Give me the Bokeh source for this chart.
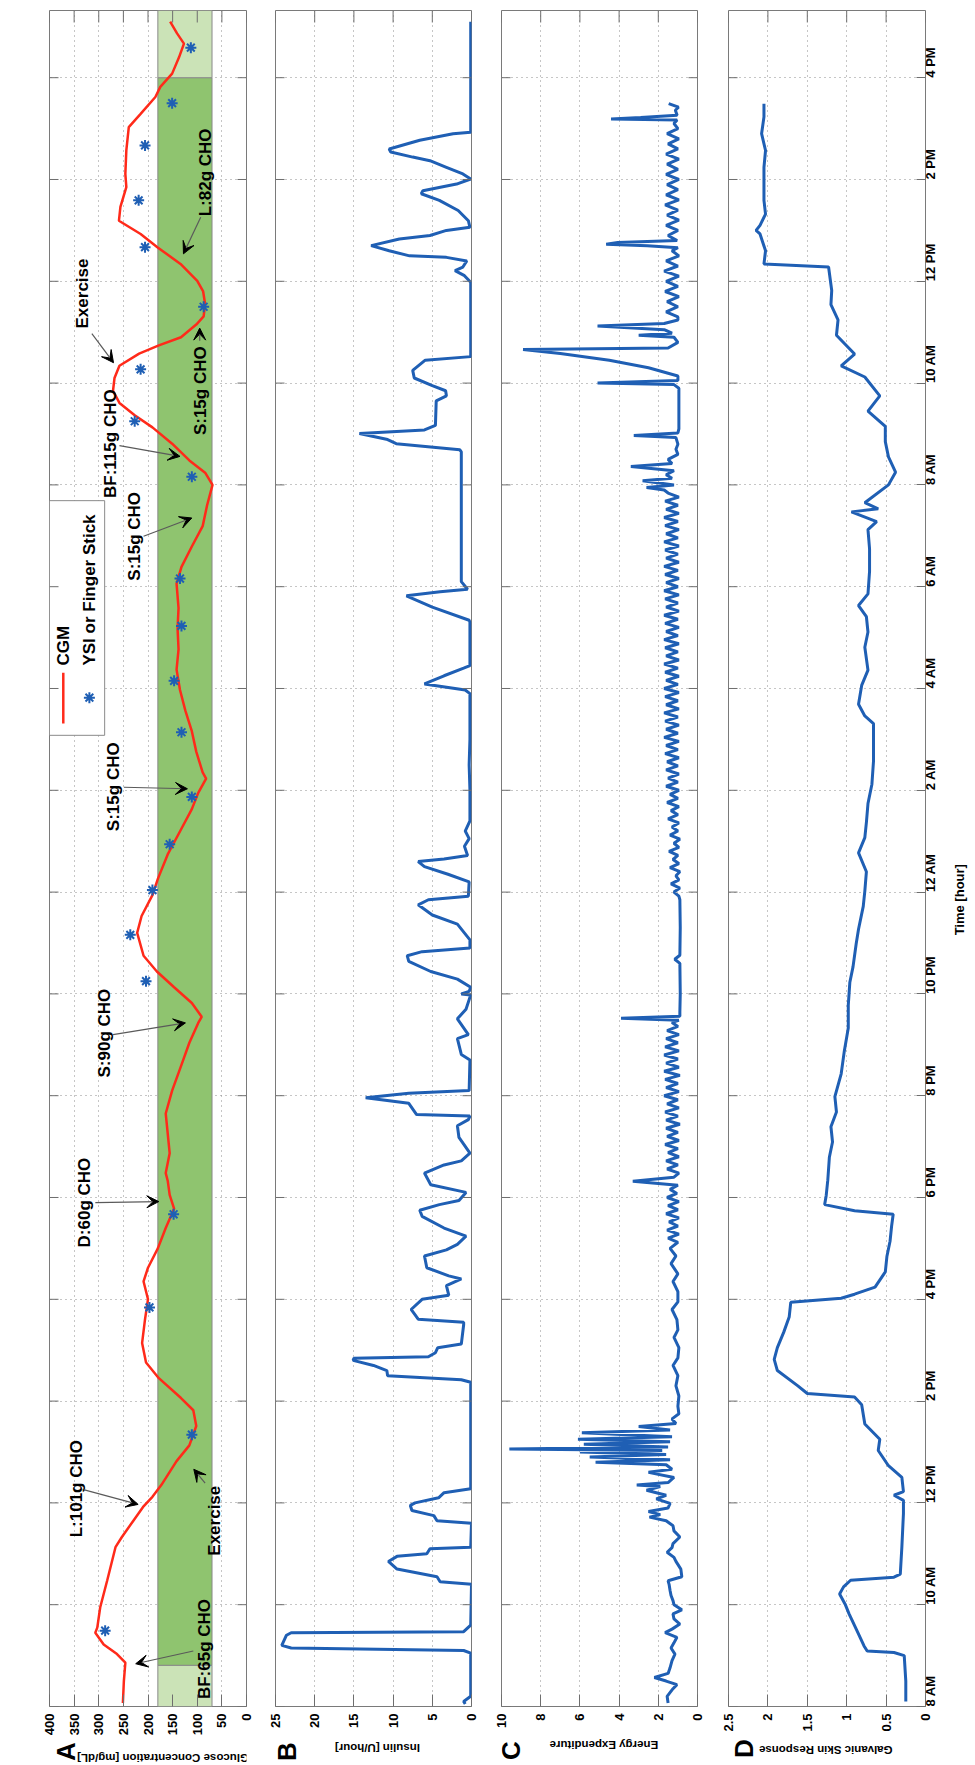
import math
from bokeh.plotting import figure
from bokeh.models import Range1d, FixedTicker, Grid, Arrow, VeeHead, ColumnDataSource
from bokeh.layouts import row, column
from bokeh.embed import file_html
from bokeh.resources import INLINE
from bokeh.core.properties import value

# ---------------------------------------------------------------- data
TIME_TICKS = [8, 10, 12, 14, 16, 18, 20, 22, 24, 26, 28, 30, 32, 34, 36, 38, 40]
TIME_LABELS = ["8 AM", "10 AM", "12 PM", "2 PM", "4 PM", "6 PM", "8 PM", "10 PM", "12 AM",
               "2 AM", "4 AM", "6 AM", "8 AM", "10 AM", "12 PM", "2 PM", "4 PM"]
T_START, T_END = 8.0, 41.32

GLU_TICKS = [0, 50, 100, 150, 200, 250, 300, 350, 400]
GLU_LABELS = ["0", "50", "100", "150", "200", "250", "300", "350", "400"]
INS_TICKS = [0, 5, 10, 15, 20, 25]
INS_LABELS = ["0", "5", "10", "15", "20", "25"]
EE_TICKS = [0, 2, 4, 6, 8, 10]
EE_LABELS = ["0", "2", "4", "6", "8", "10"]
GSR_TICKS = [0, 0.5, 1, 1.5, 2, 2.5]
GSR_LABELS = ["0", "0.5", "1", "1.5", "2", "2.5"]

TARGET_LOW, TARGET_HIGH = 70, 180
# (start, end, shade) of the target-range band
TARGET_BANDS = [(8.0, 8.81, "light"), (8.81, 40.0, "dark"), (40.0, 41.32, "light")]

CGM = [(8.07, 251), (8.5, 249), (8.86, 246), (9.03, 263), (9.22, 290), (9.45, 307), (9.55, 303),
       (9.95, 297), (10.47, 283), (11.13, 266), (11.33, 253), (11.66, 229), (11.92, 210),
       (12.12, 191), (12.35, 173), (12.82, 142), (13.13, 116), (13.51, 102), (13.82, 108),
       (14.06, 133), (14.45, 178), (14.76, 204), (15.14, 212), (15.61, 206), (16.0, 200),
       (16.35, 209), (16.62, 200), (17.0, 180), (17.4, 164), (17.78, 147), (18.05, 156),
       (18.33, 160), (18.48, 164), (18.87, 156), (19.26, 160), (19.65, 164), (20.1, 151),
       (20.58, 133), (21.04, 116), (21.43, 98), (21.55, 91), (21.82, 111), (22.13, 147),
       (22.44, 182), (22.75, 209), (23.2, 222), (23.53, 213), (23.94, 191), (24.26, 180),
       (24.74, 160), (25.23, 133), (25.63, 111), (25.95, 98), (26.23, 82), (26.35, 89),
       (26.76, 102), (27.16, 111), (27.56, 124), (27.97, 135), (28.37, 142), (28.77, 138),
       (29.18, 140), (29.58, 138), (30.06, 142), (30.39, 132), (30.79, 111), (31.19, 89),
       (31.6, 80), (32.0, 69), (32.24, 84), (32.48, 116), (32.81, 151), (33.13, 191),
       (33.37, 227), (33.61, 258), (33.85, 271), (34.1, 268), (34.34, 258), (34.58, 218),
       (34.74, 178), (34.9, 133), (35.15, 102), (35.31, 87), (35.55, 84), (35.8, 88),
       (36.01, 100), (36.34, 134), (36.67, 181), (36.93, 215), (37.19, 259), (37.46, 256),
       (37.85, 244), (38.11, 246), (38.57, 244), (39.03, 239), (39.29, 215), (39.62, 185),
       (39.82, 175), (40.08, 151), (40.4, 137), (40.67, 127), (40.87, 141), (41.1, 155)]

YSI = [(9.49, 287), (13.34, 111), (15.84, 197), (17.67, 148), (22.25, 204), (23.16, 236),
       (24.04, 191), (24.94, 156), (25.87, 111), (27.14, 132), (28.15, 147), (29.23, 132),
       (30.16, 135), (32.16, 111), (33.25, 227), (34.27, 215), (35.5, 87), (36.67, 206),
       (37.59, 219), (38.67, 206), (39.5, 151), (40.59, 113)]

INSULIN = [(8.05, 0.8), (8.1, 1.0), (8.2, 0.1), (9.05, 0.1), (9.1, 1.0), (9.15, 23.0), (9.2, 24.2),
           (9.4, 23.6), (9.45, 23.0), (9.47, 1.0), (9.6, 0.1), (10.4, 0.0), (10.45, 4.0),
           (10.55, 4.4), (10.7, 9.5), (10.85, 10.6), (10.95, 9.5), (11.0, 5.7), (11.1, 5.3),
           (11.13, 0.1), (11.6, 0.0), (11.65, 4.4), (11.75, 4.8), (11.85, 7.6), (11.95, 7.8),
           (12.0, 7.2), (12.1, 4.2), (12.2, 3.5), (12.28, 0.1), (14.37, 0.1), (14.42, 1.3),
           (14.5, 10.7), (14.6, 10.8), (14.7, 12.5), (14.8, 15.1), (14.84, 15.0), (14.87, 5.5),
           (14.95, 4.6), (15.05, 4.3), (15.12, 1.3), (15.5, 1.0), (15.55, 1.0), (15.61, 6.8),
           (15.8, 7.7), (16.0, 6.3), (16.08, 2.9), (16.27, 3.2), (16.4, 1.3), (16.46, 2.9),
           (16.62, 5.7), (16.85, 6.0), (16.97, 3.2), (17.08, 1.8), (17.24, 0.7), (17.4, 3.5),
           (17.63, 6.3), (17.75, 6.6), (17.86, 4.1), (17.94, 1.6), (18.1, 0.7), (18.25, 5.2),
           (18.48, 6.0), (18.64, 3.5), (18.72, 1.3), (18.87, 0.2), (19.18, 1.6), (19.41, 1.8),
           (19.53, 0.4), (19.6, 0.2), (19.63, 7.0), (19.85, 8.0), (19.96, 13.5), (20.05, 8.0),
           (20.1, 0.3), (20.7, 0.2), (20.81, 1.3), (21.12, 1.8), (21.2, 0.4), (21.51, 1.8),
           (21.7, 0.7), (21.98, 0.1), (22.0, 1.3), (22.05, 0.3), (22.13, 0.1), (22.29, 1.8),
           (22.44, 5.2), (22.64, 8.0), (22.75, 8.2), (22.83, 6.3), (22.9, 0.2), (23.06, 0.2),
           (23.37, 1.8), (23.55, 5.0), (23.75, 6.8), (23.85, 5.5), (23.92, 0.4), (24.2, 0.3),
           (24.35, 3.0), (24.5, 6.0), (24.6, 6.8), (24.65, 3.5), (24.72, 0.5), (24.9, 0.9),
           (25.05, 0.3), (25.2, 0.8), (25.4, 0.2), (26.0, 0.2), (26.5, 0.3), (27.0, 0.2),
           (27.9, 0.2), (27.97, 0.8), (28.09, 6.0), (28.25, 3.5), (28.4, 1.0), (28.45, 0.2),
           (29.3, 0.2), (29.34, 0.3), (29.6, 5.0), (29.82, 8.3), (29.9, 4.0), (29.95, 0.5),
           (30.1, 1.3), (32.65, 1.3), (32.69, 1.5), (32.81, 9.6), (32.89, 10.7), (33.01, 14.3),
           (33.08, 6.0), (33.17, 4.6), (33.65, 4.5), (33.75, 3.2), (33.85, 3.3), (33.95, 5.0),
           (34.1, 7.3), (34.25, 7.5), (34.45, 5.9), (34.52, 0.1), (35.98, 0.1), (36.11, 0.9),
           (36.21, 2.1), (36.28, 1.1), (36.4, 0.6), (36.47, 3.2), (36.5, 7.9), (36.6, 10.5),
           (36.7, 12.8), (36.83, 9.2), (36.9, 5.3), (37.0, 3.2), (37.06, 0.2), (37.19, 0.4),
           (37.39, 1.7), (37.59, 4.1), (37.72, 6.4), (37.78, 6.2), (37.91, 1.9), (38.01, 0.1),
           (38.11, 1.1), (38.24, 3.2), (38.37, 5.3), (38.44, 7.5), (38.54, 10.3), (38.6, 10.5),
           (38.77, 6.6), (38.9, 2.35), (38.93, 0.1), (41.1, 0.1)]

# energy expenditure: irregular stretches as (t, value) readings ...
EE_POINTS = [(8.07, 1.5), (8.2, 1.55), (8.35, 1.25), (8.43, 1.05), (8.5, 1.6), (8.57, 2.2), (8.65, 1.5),
             (8.76, 1.4), (8.9, 1.3), (9.03, 1.15), (9.15, 1.35), (9.25, 1.2), (9.36, 1.05),
             (9.45, 1.65), (9.52, 1.3), (9.62, 0.9), (9.72, 1.2), (9.82, 1.25), (9.9, 0.8),
             (10.0, 1.2), (10.08, 1.25), (10.18, 1.35), (10.28, 1.4), (10.4, 1.45), (10.47, 1.5),
             (10.55, 0.8), (10.7, 0.85), (10.85, 1.1), (10.93, 1.2), (11.03, 1.55), (11.12, 1.3),
             (11.2, 1.25), (11.33, 0.9), (11.45, 1.2), (11.55, 1.25), (11.65, 1.6), (11.72, 2.45),
             (11.77, 1.9), (11.83, 2.5), (11.9, 1.5), (11.99, 1.4), (12.08, 2.1), (12.15, 1.6),
             (12.25, 2.6), (12.32, 1.9), (12.35, 3.1), (12.4, 1.5), (12.5, 1.2), (12.6, 2.5),
             (12.66, 1.3), (12.75, 1.6), (12.8, 5.2), (12.85, 1.4), (12.9, 5.5), (12.95, 1.6),
             (13.0, 6.0), (13.03, 1.8), (13.06, 9.6), (13.1, 1.5), (13.15, 5.8), (13.2, 1.4),
             (13.25, 6.1), (13.3, 1.3), (13.38, 5.9), (13.43, 1.4), (13.5, 3.0), (13.56, 1.1),
             (13.65, 1.3), (13.75, 0.95), (13.9, 1.0), (14.1, 0.95), (14.3, 1.1), (14.5, 1.0),
             (14.7, 1.25), (14.85, 1.0), (15.05, 0.95), (15.25, 1.2), (15.4, 1.0), (15.6, 1.05),
             (15.8, 1.3), (15.95, 1.0), (16.15, 1.0), (16.35, 1.25), (16.5, 1.0), (16.7, 1.35),
             (16.85, 1.1), (17.0, 1.4),
             (21.48, 0.95), (21.52, 3.9), (21.56, 0.9), (21.65, 0.9), (22.0, 0.88), (22.6, 0.9),
             (22.68, 1.16), (22.76, 0.9), (23.3, 0.88), (23.85, 0.9),
             (31.9, 1.7), (31.95, 2.6), (32.0, 1.2), (32.08, 2.8), (32.13, 1.3), (32.2, 1.6),
             (32.28, 1.2), (32.36, 3.4), (32.42, 1.3), (32.5, 1.5), (32.6, 1.0), (32.7, 1.1),
             (32.8, 1.0), (32.93, 1.1), (32.97, 3.25), (33.02, 1.0), (33.1, 0.95), (33.5, 0.95),
             (33.9, 0.95), (33.97, 1.2), (34.0, 5.1), (34.05, 1.0), (34.14, 1.0), (34.3, 2.5),
             (34.45, 4.5), (34.58, 7.0), (34.66, 8.9), (34.69, 1.5), (34.8, 1.0), (34.9, 1.2),
             (34.94, 3.0), (34.98, 1.3), (35.05, 1.7), (35.12, 5.1), (35.17, 1.7), (35.24, 1.0),
             (36.66, 1.0), (36.7, 2.56), (36.73, 4.66), (36.76, 4.07), (36.8, 1.04),
             (39.17, 1.04), (39.19, 4.41), (39.22, 2.9), (39.26, 1.04), (39.36, 1.13),
             (39.42, 0.97), (39.49, 1.47)]
# ... and the regularly sampled fast-oscillating stretches as (first time, step, readings)
EE_RUNS = [
    (17.12, 0.08, [1.0, 1.5, 0.95, 1.55, 1.0, 1.45, 0.95, 1.6, 1.0, 1.5, 0.95, 1.55, 1.05, 1.4, 1.0,
                   3.3, 1.2, 0.95, 1.55, 1.0, 1.6, 0.95, 1.5, 1.0, 1.65, 0.95, 1.55, 1.0, 1.6, 0.9,
                   1.6, 1.0, 1.65, 0.95, 1.55, 1.0, 1.7, 0.95, 1.6, 1.0, 1.65, 0.9, 1.7, 0.95, 1.6,
                   1.0, 1.7, 0.95, 1.65, 1.0, 1.6, 0.95, 1.55, 1.0, 1.3]),
    (23.92, 0.08, [0.95, 1.2, 0.9, 1.35, 0.95, 1.1, 0.9, 1.4, 0.95, 1.25,
                   1.0, 1.45, 0.95, 1.2, 0.9, 1.4, 1.0, 1.3, 0.95, 1.5,
                   1.0, 1.35, 0.95, 1.55, 1.0, 1.4, 0.95, 1.6, 1.0, 1.5,
                   0.95, 1.6, 1.0, 1.55, 0.95, 1.65, 1.0, 1.6, 0.95, 1.7,
                   1.0, 1.6, 0.95, 1.65, 1.0, 1.7, 0.95, 1.6, 1.0, 1.65,
                   0.95, 1.7, 1.0, 1.6, 0.95, 1.65, 1.0, 1.7, 0.95, 1.6,
                   1.0, 1.65, 0.95, 1.7, 1.0, 1.6, 0.95, 1.65, 1.0, 1.7,
                   0.95, 1.6, 1.0, 1.65, 0.95, 1.7, 1.0, 1.6, 0.95, 1.65,
                   1.0, 1.7, 0.95, 1.6, 1.0, 1.65, 0.95, 1.7, 1.0, 1.6,
                   0.95, 1.65, 1.0, 1.7, 0.95, 1.6, 1.0, 1.65, 0.95, 1.5]),
    (35.3, 0.1, [1.0, 1.6, 1.0, 1.55, 0.95, 1.65, 1.0, 1.6, 0.95, 1.7, 1.0, 1.6, 0.95, 1.3]),
    (36.9, 0.1, [1.5, 1.0, 1.6, 0.95, 1.55, 1.0, 1.65, 0.95, 1.6, 1.0, 1.55, 0.95, 1.6, 1.0,
                 1.55, 0.95, 1.6, 1.0, 1.5, 0.95, 1.55, 1.0, 1.2]),
]

GSR = [(8.1, 0.25), (8.5, 0.25), (9.0, 0.27), (9.06, 0.4), (9.09, 0.74), (9.19, 0.78), (9.49, 0.87),
       (9.82, 0.97), (10.01, 1.02), (10.21, 1.09), (10.35, 1.04), (10.48, 0.95), (10.54, 0.40),
       (10.6, 0.32), (11.13, 0.30), (11.79, 0.28), (12.05, 0.28), (12.15, 0.40), (12.22, 0.28),
       (12.5, 0.30), (12.73, 0.47), (13.03, 0.60), (13.25, 0.58), (13.55, 0.77), (13.93, 0.81),
       (14.08, 0.90), (14.15, 1.50), (14.3, 1.62), (14.6, 1.88), (14.82, 1.92), (15.05, 1.88),
       (15.35, 1.80), (15.65, 1.73), (15.94, 1.71), (16.02, 1.07), (16.1, 0.90), (16.24, 0.64),
       (16.54, 0.51), (16.84, 0.49), (17.14, 0.45), (17.44, 0.43), (17.67, 0.41), (17.74, 0.90),
       (17.86, 1.28), (18.04, 1.26), (18.34, 1.24), (18.79, 1.22), (19.09, 1.18), (19.39, 1.20),
       (19.68, 1.13), (19.98, 1.15), (20.43, 1.07), (20.88, 1.03), (21.33, 0.98), (21.78, 0.98),
       (22.23, 0.96), (22.53, 0.92), (22.98, 0.88), (23.27, 0.85), (23.72, 0.79), (24.02, 0.77),
       (24.4, 0.75), (24.77, 0.85), (25.07, 0.77), (25.37, 0.75), (25.74, 0.73), (26.12, 0.68),
       (26.57, 0.66), (27.31, 0.66), (27.46, 0.77), (27.69, 0.85), (28.06, 0.81), (28.36, 0.73),
       (28.81, 0.77), (29.11, 0.73), (29.41, 0.75), (29.63, 0.85), (29.86, 0.73), (30.3, 0.71),
       (30.75, 0.71), (31.12, 0.73), (31.28, 0.62), (31.47, 0.94), (31.53, 0.60), (31.65, 0.77),
       (32.0, 0.47), (32.25, 0.38), (32.55, 0.47), (32.85, 0.51), (33.15, 0.51), (33.45, 0.73),
       (33.75, 0.58), (34.12, 0.77), (34.34, 1.07), (34.57, 0.90), (34.94, 1.13), (35.24, 1.11),
       (35.54, 1.20), (35.82, 1.19), (36.28, 1.23), (36.34, 2.05), (36.6, 2.03), (36.93, 2.10),
       (37.0, 2.15), (37.1, 2.10), (37.32, 2.03), (37.59, 2.05), (38.24, 2.05), (38.57, 2.03),
       (38.9, 2.08), (39.23, 2.05), (39.49, 2.05)]

# meal / exercise notes: text, (glucose, time) of text centre, arrow tail, arrow head
NOTE_TEXT = ["BF:65g CHO", "L:101g CHO", "Exercise", "D:60g CHO", "S:90g CHO", "S:15g CHO",
             "S:15g CHO", "BF:115g CHO", "S:15g CHO", "Exercise", "L:82g CHO"]
NOTE_AT = [(86, 9.13), (345, 12.28), (64, 11.65), (329, 17.9), (289, 21.23), (271, 26.07),
           (228, 30.99), (276, 32.81), (93, 33.85), (333, 35.76), (83, 38.14)]
NOTE_TAIL = [(108, 9.09), (331, 12.26), (84, 12.39), (307, 17.9), (271, 21.2), (249, 26.06),
             (209, 30.99), (258, 32.77), (95, 34.83), (314, 34.97), (93, 37.26)]
NOTE_HEAD = [(225, 8.84), (220, 11.97), (107, 12.66), (178, 17.92), (124, 21.43), (120, 26.03),
             (111, 31.35), (135, 32.56), (95, 35.08), (270, 34.4), (128, 36.54)]
TIME_TITLE_AT = 23.85   # time at which the "Time [hour]" title is centred

# ---------------------------------------------------------------- styles / layout
FONT = "Liberation Sans"
RED = "#ff2a1a"
BLUE = "#1f5fb4"
DARK_GREEN = "#8fc46f"
LIGHT_GREEN = "#cbe3b7"
TICK_COLOR = "#6e6e6e"
FRAME_H = 1696
BORDER_TOP = 10
TICK_BORDER = 30      # room for the value tick labels under each panel
STRIP_H = 27          # caption strip (axis title + panel letter) under each panel
PX_PER_H = FRAME_H / (T_END - T_START)


def make_panel(xmax, ticks, labels, fw, bl, br, show_time):
    p = figure(frame_width=fw, frame_height=FRAME_H,
               min_border_left=bl, min_border_right=br,
               min_border_top=BORDER_TOP, min_border_bottom=TICK_BORDER,
               x_range=Range1d(xmax, 0), y_range=Range1d(T_START, T_END),
               x_axis_location="below", y_axis_location="right" if show_time else None,
               output_backend="svg", toolbar_location=None, tools="")
    p.outline_line_color = "#7a7a7a"
    p.outline_line_width = 1
    p.background_fill_color = "white"
    p.border_fill_color = "white"

    ax = p.xaxis[0]
    ax.ticker = FixedTicker(ticks=ticks)
    ax.major_label_overrides = {t: l for t, l in zip(ticks, labels)}
    ax.major_tick_in = 12
    ax.major_tick_out = 0
    ax.major_tick_line_color = TICK_COLOR
    ax.minor_tick_line_color = None
    ax.axis_line_color = None
    ax.major_label_text_font = FONT
    ax.major_label_text_font_style = "bold"
    ax.major_label_text_font_size = "13px"
    ax.major_label_text_color = "black"
    ax.major_label_orientation = math.pi / 2
    ax.major_label_standoff = 7

    if show_time:
        ay = p.yaxis[0]
        ay.ticker = FixedTicker(ticks=TIME_TICKS)
        ay.major_label_overrides = {t: l for t, l in zip(TIME_TICKS, TIME_LABELS)}
        ay.major_tick_in = 9
        ay.major_tick_out = 0
        ay.major_tick_line_color = TICK_COLOR
        ay.minor_tick_line_color = None
        ay.axis_line_color = None
        ay.major_label_text_font = FONT
        ay.major_label_text_font_style = "bold"
        ay.major_label_text_font_size = "13px"
        ay.major_label_text_color = "black"
        ay.major_label_orientation = math.pi / 2
        ay.major_label_standoff = 5

    p.center = [r for r in p.center if not isinstance(r, Grid)]
    for dim, tk in ((0, ticks), (1, TIME_TICKS)):
        p.add_layout(Grid(dimension=dim, ticker=FixedTicker(ticks=tk), grid_line_color="#8c8c8c",
                          grid_line_dash="1 4", grid_line_width=1), "center")
    return p


def add_frame_ticks(p, xmax, ticks, fw, right_side):
    """inward tick marks on the top edge and on the time edges without an axis"""
    top_len = 12 / PX_PER_H
    p.segment(x0=ticks, y0=[T_END] * len(ticks), x1=ticks, y1=[T_END - top_len] * len(ticks),
              line_color=TICK_COLOR, line_width=1)
    side_len = 9 * xmax / fw
    n = len(TIME_TICKS)
    p.segment(x0=[xmax] * n, y0=TIME_TICKS, x1=[xmax - side_len] * n, y1=TIME_TICKS,
              line_color=TICK_COLOR, line_width=1)
    if right_side:
        p.segment(x0=[0] * n, y0=TIME_TICKS, x1=[side_len] * n, y1=TIME_TICKS,
                  line_color=TICK_COLOR, line_width=1)


def caption_strip(fig_w, bl, fw, title, title_y, letter, letter_x, letter_y):
    s = figure(width=fig_w, height=STRIP_H, x_range=Range1d(0, fig_w), y_range=Range1d(0, STRIP_H),
               min_border=0, x_axis_location=None, y_axis_location=None,
               output_backend="svg", toolbar_location=None, tools="")
    s.grid.visible = False
    s.outline_line_color = None
    s.background_fill_color = "white"
    s.border_fill_color = "white"
    s.text(x=[bl + fw / 2], y=[title_y], text=[title], angle=math.pi, text_align="center",
           text_baseline="middle", text_font=value(FONT), text_font_style="bold",
           text_font_size="11.5px", text_color="black")
    s.text(x=[letter_x], y=[letter_y], text=[letter], angle=math.pi / 2, text_align="center",
           text_baseline="middle", text_font=value(FONT), text_font_style="bold",
           text_font_size="26px", text_color="black")
    return s


# ---------------------------------------------------------------- panel A
A_W, A_L, A_R = 197, 49, 10
pA = make_panel(400, GLU_TICKS, GLU_LABELS, A_W, A_L, A_R, False)
for t0, t1, shade in TARGET_BANDS:
    pA.quad(left=TARGET_HIGH, right=TARGET_LOW, bottom=t0, top=t1,
            fill_color=DARK_GREEN if shade == "dark" else LIGHT_GREEN,
            line_color="#8a8a8a", line_width=1)

cgm_t, cgm_v = zip(*CGM)
pA.line(x=list(cgm_v), y=list(cgm_t), line_color=RED, line_width=2.5)
ysi_t, ysi_v = zip(*YSI)
pA.scatter(x=list(ysi_v), y=list(ysi_t), marker="asterisk", size=11, line_width=2, line_color=BLUE)

# legend box (glucose / time coordinates of the box)
pA.quad(left=400, right=288, bottom=27.08, top=31.69, fill_color="white", line_color="#8a8a8a",
        line_width=1)
pA.line(x=[372, 372], y=[27.31, 28.31], line_color=RED, line_width=2.5)
pA.scatter(x=[319], y=[27.82], marker="asterisk", size=11, line_width=2, line_color=BLUE)
pA.text(x=[372, 319], y=[28.45, 28.45], text=["CGM", "YSI or Finger Stick"], angle=math.pi / 2,
        text_align="left", text_baseline="middle", text_font=value(FONT),
        text_font_style="bold", text_font_size="17px", text_color="black")

arrows = ColumnDataSource(dict(xs=[a[0] for a in NOTE_TAIL], ys=[a[1] for a in NOTE_TAIL],
                               xe=[a[0] for a in NOTE_HEAD], ye=[a[1] for a in NOTE_HEAD]))
pA.add_layout(Arrow(end=VeeHead(size=12, fill_color="black", line_color="black", line_width=1),
                    x_start="xs", y_start="ys", x_end="xe", y_end="ye", source=arrows,
                    line_color="#5a5a5a", line_width=1.2))
pA.text(x=[a[0] for a in NOTE_AT], y=[a[1] for a in NOTE_AT], text=NOTE_TEXT, angle=math.pi / 2,
        text_align="center", text_baseline="middle", text_font=value(FONT),
        text_font_style="bold", text_font_size="17px", text_color="black")
add_frame_ticks(pA, 400, GLU_TICKS, A_W, True)
sA = caption_strip(A_L + A_W + A_R, A_L, A_W, "Glucose Concentration [mg/dL]", 8, "A", 22, 14)

# ---------------------------------------------------------------- panel B
B_W, B_L, B_R = 196, 19, 10
pB = make_panel(25, INS_TICKS, INS_LABELS, B_W, B_L, B_R, False)
ins_t, ins_v = zip(*INSULIN)
pB.line(x=list(ins_v), y=list(ins_t), line_color=BLUE, line_width=3)
add_frame_ticks(pB, 25, INS_TICKS, B_W, True)
sB = caption_strip(B_L + B_W + B_R, B_L, B_W, "Insulin [U/hour]", 16, "B", 13, 12)

# ---------------------------------------------------------------- panel C
C_W, C_L, C_R = 196, 20, 10
pC = make_panel(10, EE_TICKS, EE_LABELS, C_W, C_L, C_R, False)
ee = list(EE_POINTS)
for start, step, vals in EE_RUNS:
    ee += [(start + i * step, v) for i, v in enumerate(vals)]
ee.sort()
ee_t, ee_v = zip(*ee)
pC.line(x=list(ee_v), y=list(ee_t), line_color=BLUE, line_width=3)
add_frame_ticks(pC, 10, EE_TICKS, C_W, True)
sC = caption_strip(C_L + C_W + C_R, C_L, C_W, "Energy Expenditure", 19, "C", 11, 13)

# ---------------------------------------------------------------- panel D
D_W, D_L, D_R = 197, 21, 24
pD = make_panel(2.5, GSR_TICKS, GSR_LABELS, D_W, D_L, D_R, True)
gsr_t, gsr_v = zip(*GSR)
pD.line(x=list(gsr_v), y=list(gsr_t), line_color=BLUE, line_width=3)
add_frame_ticks(pD, 2.5, GSR_TICKS, D_W, False)
sD = caption_strip(D_L + D_W + D_R, D_L, D_W, "Galvanic Skin Response", 14, "D", 19, 15)

# ---------------------------------------------------------------- time-axis title
TS_W = 24
pT = figure(frame_width=TS_W, frame_height=FRAME_H, min_border_left=0, min_border_right=0,
            min_border_top=BORDER_TOP, min_border_bottom=TICK_BORDER,
            x_range=Range1d(0, TS_W), y_range=Range1d(T_START, T_END),
            x_axis_location=None, y_axis_location=None,
            output_backend="svg", toolbar_location=None, tools="")
pT.grid.visible = False
pT.outline_line_color = None
pT.text(x=[9.5], y=[TIME_TITLE_AT], text=["Time [hour]"], angle=math.pi / 2,
        text_align="center", text_baseline="middle", text_font=value(FONT),
        text_font_style="bold", text_font_size="13px", text_color="black")

layout = row(column(pA, sA, spacing=0), column(pB, sB, spacing=0), column(pC, sC, spacing=0),
             column(pD, sD, spacing=0), pT, spacing=0)
open("out.html", "w").write(file_html(layout, INLINE, "CGM"))
